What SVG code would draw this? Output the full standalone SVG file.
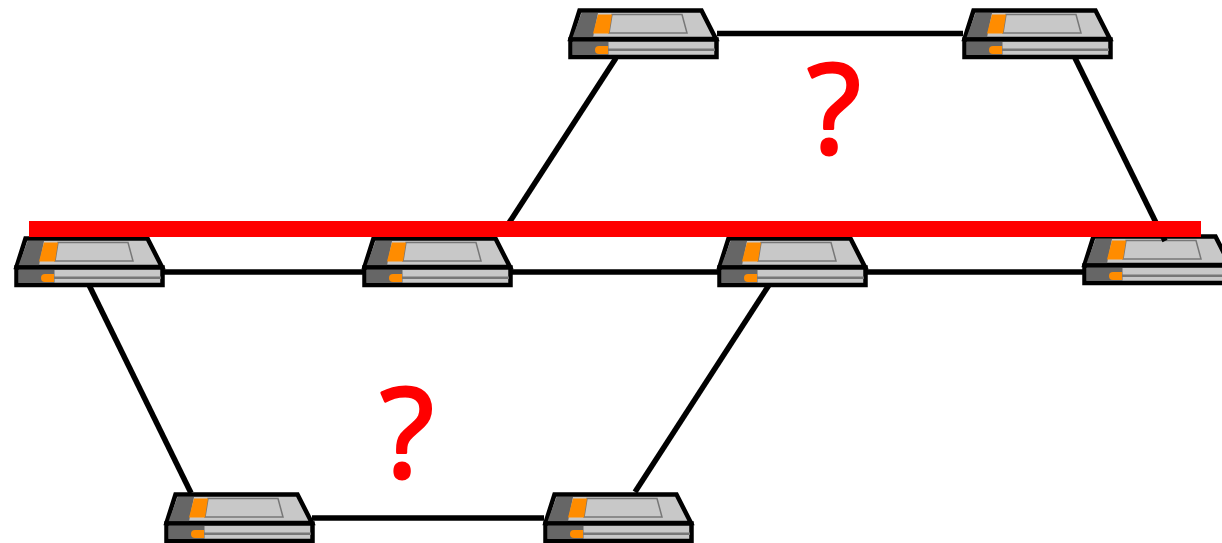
<svg xmlns="http://www.w3.org/2000/svg" width="1222" height="543" viewBox="0 0 1222 543">
<style>
.link{stroke:#000;stroke-width:5.500;fill:none}
.q{font-family:"Open Sans",sans-serif;font-size:125px;fill:#f00;stroke:#f00;stroke-width:3;stroke-linejoin:round;text-anchor:middle}
.out{stroke:#000;stroke-width:4.500;stroke-linejoin:miter}
</style>
<defs>
<g id="sw">
<path d="M1.500 30 L10.500 1.500 H132.500 L147 30 Z" fill="#c8c8c8" class="out"/>
<path d="M3.500 28.500 L12.500 4 H29 L24 28.500 Z" fill="#666"/>
<path d="M43 5.500 H113 L118 24 H40 Z" fill="#c8c8c8" stroke="#777" stroke-width="1.500"/>
<path d="M29 5.500 H43 L40 24.500 H24 Z" fill="#ff8c00"/>
<rect x="1.500" y="30.500" width="146" height="17.500" fill="#c8c8c8" class="out"/>
<rect x="3.500" y="33" width="36" height="13" fill="#666"/>
<rect x="39" y="39.500" width="107" height="2.500" fill="#777"/>
<path d="M30 37 H39 V45 H30 A4 4 0 0 1 30 37 Z" fill="#ff8c00"/>
</g>
</defs>
<g id="connectors">
<line class="link" x1="717" y1="33.500" x2="963" y2="33.500"/>
<line class="link" x1="616" y1="58" x2="507" y2="226"/>
<line class="link" x1="1075" y1="58" x2="1165" y2="241"/>
<line class="link" x1="163" y1="272" x2="363" y2="272"/>
<line class="link" x1="511" y1="272" x2="718" y2="272"/>
<line class="link" x1="866" y1="272" x2="1083" y2="272"/>
<line class="link" x1="89" y1="285" x2="191" y2="493"/>
<line class="link" x1="769" y1="285" x2="635" y2="492"/>
<line class="link" x1="312" y1="518" x2="544" y2="518"/>
</g>
<use id="node-top-1" href="#sw" x="569" y="9"/>
<use id="node-top-2" href="#sw" x="963" y="9"/>
<use id="node-mid-1" href="#sw" x="15" y="237"/>
<use id="node-mid-2" href="#sw" x="363" y="237"/>
<use id="node-mid-3" href="#sw" x="718" y="237"/>
<use id="node-mid-4" href="#sw" x="1083" y="235"/>
<use id="node-bot-1" href="#sw" x="165" y="493"/>
<use id="node-bot-2" href="#sw" x="544" y="493"/>
<line class="link" x1="1158" y1="226" x2="1165" y2="241"/>
<rect id="bar" x="29" y="221" width="1172" height="16" fill="#f00"/>
<text class="q" x="834" y="153">?</text>
<text class="q" x="407" y="477">?</text>
</svg>
